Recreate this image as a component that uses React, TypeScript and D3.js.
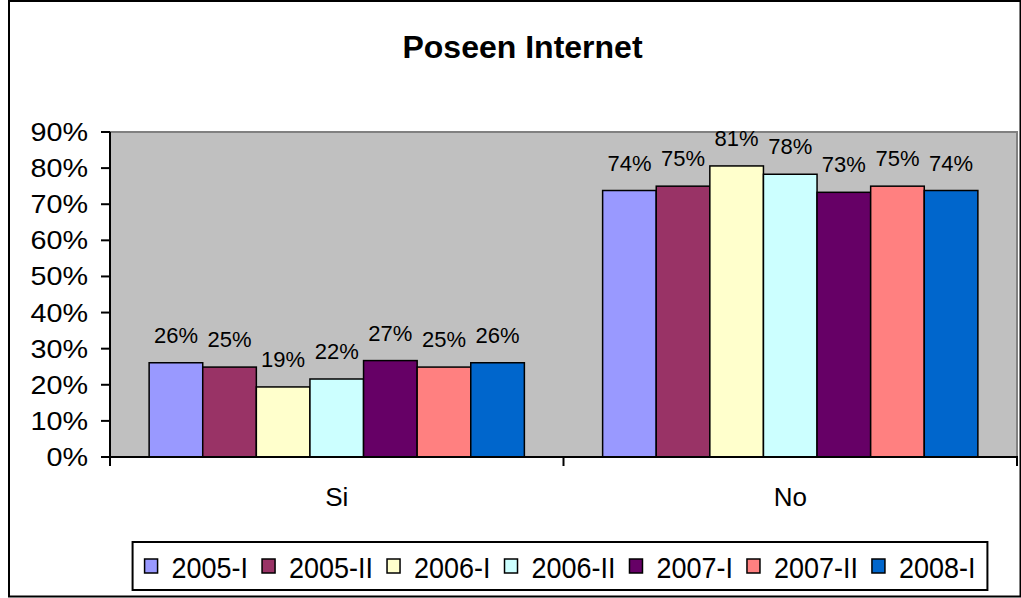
import React, { useEffect, useRef } from "react";
import * as d3 from "d3";

const categories = ["Si", "No"];
const seriesNames = ["2005-I", "2005-II", "2006-I", "2006-II", "2007-I", "2007-II", "2008-I"];
const siValues = [26.1, 24.9, 19.4, 21.6, 26.7, 24.9, 26.1];
const noValues = [73.8, 75.0, 80.6, 78.3, 73.3, 75.0, 73.8];
const seriesColors = ["#9999FF", "#993366", "#FFFFCC", "#CCFFFF", "#660066", "#FF8080", "#0066CC"];
const yTicks = [0, 10, 20, 30, 40, 50, 60, 70, 80, 90];
const title = "Poseen Internet";

const FONT = "'Liberation Sans', Arial, Helvetica, sans-serif";

export default function App() {
  const ref = useRef<SVGSVGElement | null>(null);

  useEffect(() => {
    const svg = d3.select(ref.current);
    svg.selectAll("*").remove();
    const W = 1021, H = 598;
    const plot = { left: 110, right: 1017, top: 132, bottom: 457 };

    svg.append("rect").attr("x", 0).attr("y", 0).attr("width", W).attr("height", H).attr("fill", "#fff");
    // outer frame
    svg.append("rect").attr("x", 9).attr("y", 1).attr("width", 1011.5).attr("height", 595.5)
      .attr("fill", "none").attr("stroke", "#000").attr("stroke-width", 2);

    // title
    svg.append("text").attr("x", 522.5).attr("y", 58).attr("text-anchor", "middle")
      .attr("font-family", FONT).attr("font-weight", "bold").attr("font-size", 32)
      .text(title);

    const y = d3.scaleLinear().domain([0, 90]).range([plot.bottom, plot.top]);
    const x0 = d3.scaleBand<string>().domain(categories).range([plot.left, plot.right]).paddingInner(0).paddingOuter(0);
    const x1 = d3.scaleBand<string>().domain(seriesNames).range([0, x0.bandwidth()]).paddingInner(0).paddingOuter(0.73);

    // plot background
    svg.append("rect").attr("x", plot.left).attr("y", plot.top)
      .attr("width", plot.right - plot.left).attr("height", plot.bottom - plot.top)
      .attr("fill", "#C0C0C0").attr("stroke", "#808080").attr("stroke-width", 2);

    const data = [siValues, noValues];
    const g = svg.append("g");
    categories.forEach((cat, ci) => {
      seriesNames.forEach((s, si) => {
        const v = data[ci][si];
        const bx = (x0(cat) as number) + (x1(s) as number);
        g.append("rect").attr("x", bx).attr("y", y(v))
          .attr("width", x1.bandwidth()).attr("height", y(0) - y(v))
          .attr("fill", seriesColors[si]).attr("stroke", "#000").attr("stroke-width", 1.5);
        g.append("text").attr("x", bx + x1.bandwidth() / 2).attr("y", y(v) - 20)
          .attr("text-anchor", "middle").attr("font-family", FONT).attr("font-size", 22)
          .attr("fill", "#000").text(`${Math.round(v)}%`);
      });
    });

    // y axis
    svg.append("line").attr("x1", plot.left).attr("x2", plot.left).attr("y1", plot.top).attr("y2", plot.bottom + 1)
      .attr("stroke", "#000").attr("stroke-width", 2);
    yTicks.forEach((t) => {
      svg.append("line").attr("x1", plot.left - 9).attr("x2", plot.left).attr("y1", y(t)).attr("y2", y(t))
        .attr("stroke", "#000").attr("stroke-width", 2);
      svg.append("text").attr("transform", `translate(88,${y(t) + 9}) scale(1.15,1)`).attr("text-anchor", "end")
        .attr("font-family", FONT).attr("font-size", 25).text(`${t}%`);
    });

    // x axis
    svg.append("line").attr("x1", plot.left).attr("x2", plot.right + 1).attr("y1", plot.bottom).attr("y2", plot.bottom)
      .attr("stroke", "#000").attr("stroke-width", 2);
    const tickXs = [plot.left, ...categories.map((c) => (x0(c) as number) + x0.bandwidth())];
    tickXs.forEach((tx) => {
      svg.append("line").attr("x1", tx).attr("x2", tx).attr("y1", plot.bottom).attr("y2", plot.bottom + 9)
        .attr("stroke", "#000").attr("stroke-width", 2);
    });
    categories.forEach((c) => {
      svg.append("text").attr("x", (x0(c) as number) + x0.bandwidth() / 2).attr("y", 506)
        .attr("text-anchor", "middle").attr("font-family", FONT).attr("font-size", 26).text(c);
    });

    // legend
    const lg = svg.append("g");
    const box = lg.append("rect").attr("y", 542).attr("height", 48)
      .attr("fill", "#fff").attr("stroke", "#000").attr("stroke-width", 2);
    const SX = 0.93;
    let cx = 0;
    const items: { sq: any; tx: any; x: number }[] = [];
    seriesNames.forEach((s, i) => {
      const sq = lg.append("rect").attr("y", 559).attr("width", 13).attr("height", 14)
        .attr("fill", seriesColors[i]).attr("stroke", "#000").attr("stroke-width", 1.5);
      const tx = lg.append("text").attr("font-family", FONT).attr("font-size", 29).text(s);
      const w = (tx.node() as SVGTextElement).getComputedTextLength() * SX;
      items.push({ sq, tx, x: cx });
      cx += 27 + w + (i < seriesNames.length - 1 ? 14 : 0);
    });
    const total = cx;
    const start = 560 - total / 2;
    items.forEach((it) => {
      it.sq.attr("x", start + it.x);
      it.tx.attr("transform", `translate(${start + it.x + 27},578) scale(${SX},1)`);
    });
    box.attr("x", start - 12).attr("width", total + 24);
  }, []);

  return (
    <svg ref={ref} width={1021} height={598}
      style={{ position: "absolute", left: 0, top: 0, display: "block" }} />
  );
}
